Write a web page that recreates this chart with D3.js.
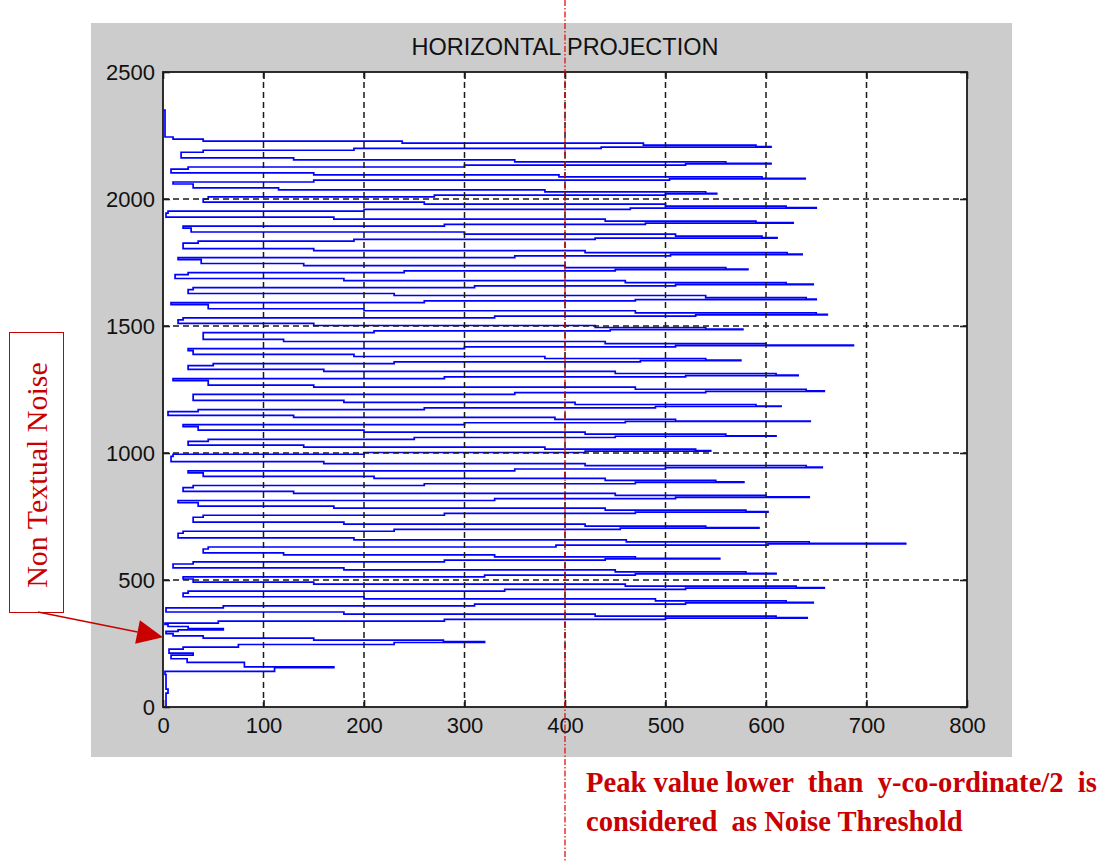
<!DOCTYPE html>
<html>
<head>
<meta charset="utf-8">
<script src="https://cdn.jsdelivr.net/npm/d3@7"></script>
<style>
  body { margin: 0; background: #fff; }
  svg { display: block; }
</style>
</head>
<body>
<svg id="chart" width="1099" height="861"></svg>
<script>
// ---- data ----
const xTicks = [0, 100, 200, 300, 400, 500, 600, 700, 800];
const yTicks = [0, 500, 1000, 1500, 2000, 2500];

// one peak per text line: row of the tip and its projection value (top to bottom)
const lineRows = [2206, 2140, 2081, 2022, 1966, 1907, 1848, 1783, 1724, 1665, 1606, 1546, 1488, 1425, 1366, 1307,
                  1245, 1185, 1126, 1068, 1009, 944, 886, 827, 769, 706, 644, 585, 526, 470, 412, 352];
const lineTips = [605, 605, 639, 551, 650, 627, 611, 636, 582, 647, 650, 661, 577, 687, 575, 632,
                  658, 615, 644, 610, 545, 656, 578, 643, 602, 593, 739, 554, 610, 658, 647, 641];
// values below the tip (rising side) and above it (falling side)
const lineRise = [[40,190,436],[25,300,520],[10,150,504],[45,270,500],[5,200,465],[20,280,480],[35,190,430],[15,350,505],
                  [25,240,450],[30,310,510],[8,260,470],[20,330,530],[40,210,445],[25,300,510],[50,230,475],[10,280,520],
                  [30,350,540],[35,260,490],[20,300,460],[45,250,450],[10,200,420],[25,350,500],[30,260,470],[15,330,510],
                  [40,280,470],[20,230,455],[45,391,602],[30,280,440],[20,320,470],[25,340,520],[60,310,520],[55,280,500]];
const lineFall = [[590,478,238,40],[560,350,130,18],[596,394,150,8],[540,380,115,30],[620,500,260,40],[590,440,170,3],
                  [596,510,300,28],[621,420,150,20],[560,400,140,38],[620,460,180,12],[640,540,230,25],[650,470,200,45],
                  [540,430,150,15],[600,440,120,40],[540,380,190,30],[610,450,160,25],[640,470,150,45],[590,410,180,30],
                  [510,390,130,5],[560,420,200,35],[530,380,140,25],[640,420,160,8],[550,440,210,40],[600,450,130,20],
                  [580,440,170,35],[540,420,180,30],[643,461,190,15],[470,330,120,40],[580,450,180,10],[630,460,150,30],
                  [620,490,200,20],[610,430,180,3]];
// row offsets of the steps around a tip: rise x3, tip, fall x4
const stepOffsets = [-22, -14, -7, -2, 0, 6, 14, 22];

// [row, value] steps of the non textual part at the bottom and the margin at the top
const bottomSteps = [[0,3],[55,5],[70,3],[128,2],[140,111],[155,170],[158,81],[176,24],[190,8],[204,30],[212,6],
                     [228,20],[236,75],[246,230],[254,320],[257,279],[263,150],[271,40],[280,10],[289,3],[298,15],
                     [304,60],[309,25],[317,5],[325,2]];
const topSteps = [[2236,10],[2244,2],[2350,1]];

const thresholdValue = 400;
const noiseRow = 275;

// ---- build the projection as [row, value] steps ----
const steps = bottomSteps.slice();
for (let i = lineRows.length - 1; i >= 0; i--) {
	const vals = lineRise[i].concat([lineTips[i]], lineFall[i]);
	stepOffsets.forEach((o, j) => steps.push([lineRows[i] + o, vals[j]]));
}
topSteps.forEach(s => steps.push(s));

// ---- chart ----
const svg = d3.select("#chart");

const x = d3.scaleLinear().domain([0, 800]).range([163, 967]);
const y = d3.scaleLinear().domain([0, 2500]).range([707, 72]);

// figure background
svg.append("rect")
	.attr("x", 91).attr("y", 23)
	.attr("width", 921).attr("height", 734)
	.attr("fill", "#cccccc");

svg.append("rect")
	.attr("x", x(0)).attr("y", y(2500))
	.attr("width", x(800) - x(0)).attr("height", y(0) - y(2500))
	.attr("fill", "#fff");

// projection line
const line = d3.line()
	.x(d => x(d[1]))
	.y(d => y(d[0]))
	.curve(d3.curveStepBefore);

svg.append("path")
	.datum(steps)
	.attr("d", line)
	.attr("fill", "none")
	.attr("stroke", "#0000ff")
	.attr("stroke-width", 1.7);

// grid (on top, like matlab)
const grid = svg.append("g")
	.attr("stroke", "#1a1a1a")
	.attr("stroke-width", 1.5)
	.attr("stroke-dasharray", "6,4");

grid.selectAll(".gx")
	.data(xTicks.slice(1, -1))
	.enter().append("line")
	.attr("x1", d => x(d)).attr("x2", d => x(d))
	.attr("y1", y(2500)).attr("y2", y(0));

grid.selectAll(".gy")
	.data(yTicks.slice(1, -1))
	.enter().append("line")
	.attr("x1", x(0)).attr("x2", x(800))
	.attr("y1", d => y(d)).attr("y2", d => y(d));

// axes with inward ticks on all four sides
function styleAxis(g) {
	g.select(".domain").remove();
	g.selectAll(".tick line").attr("stroke", "#1a1a1a").attr("stroke-width", 1.6);
	g.selectAll("text")
		.attr("fill", "#111")
		.style("font-family", "'Liberation Sans', Arial, sans-serif")
		.style("font-size", "22px");
}

const fmt = d3.format("d");

svg.append("g")
	.attr("transform", `translate(0,${y(0)})`)
	.call(d3.axisBottom(x).tickValues(xTicks).tickFormat(fmt).tickSizeInner(-7).tickSizeOuter(0).tickPadding(10))
	.call(styleAxis);

svg.append("g")
	.attr("transform", `translate(0,${y(2500)})`)
	.call(d3.axisTop(x).tickValues(xTicks).tickSizeInner(-7).tickSizeOuter(0).tickFormat(""))
	.call(styleAxis);

svg.append("g")
	.attr("transform", `translate(${x(0)},0)`)
	.call(d3.axisLeft(y).tickValues(yTicks).tickFormat(fmt).tickSizeInner(-7).tickSizeOuter(0).tickPadding(8))
	.call(styleAxis);

svg.append("g")
	.attr("transform", `translate(${x(800)},0)`)
	.call(d3.axisRight(y).tickValues(yTicks).tickSizeInner(-7).tickSizeOuter(0).tickFormat(""))
	.call(styleAxis);

svg.append("rect")
	.attr("x", x(0)).attr("y", y(2500))
	.attr("width", x(800) - x(0)).attr("height", y(0) - y(2500))
	.attr("fill", "none")
	.attr("stroke", "#1a1a1a")
	.attr("stroke-width", 1.8);

// title
svg.append("text")
	.attr("x", (x(0) + x(800)) / 2)
	.attr("y", 55)
	.attr("text-anchor", "middle")
	.attr("textLength", 307)
	.attr("lengthAdjust", "spacingAndGlyphs")
	.attr("fill", "#111")
	.style("font-family", "'Liberation Sans', Arial, sans-serif")
	.style("font-size", "24px")
	.text("HORIZONTAL PROJECTION");

// ---- annotations ----
const red = "#c80000";

// threshold line
svg.append("line")
	.attr("x1", x(thresholdValue)).attr("x2", x(thresholdValue))
	.attr("y1", 0).attr("y2", 861)
	.attr("stroke", "#e00000")
	.attr("stroke-width", 1.2)
	.attr("stroke-dasharray", "6,2,1.5,2");

// noise callout box
svg.append("rect")
	.attr("x", 9.5).attr("y", 332.5)
	.attr("width", 54).attr("height", 280)
	.attr("fill", "#fff")
	.attr("stroke", red)
	.attr("stroke-width", 1);

svg.append("text")
	.attr("transform", "translate(47,475) rotate(-90)")
	.attr("text-anchor", "middle")
	.attr("fill", red)
	.style("font-family", "'Liberation Serif', 'Times New Roman', serif")
	.style("font-size", "30px")
	.text("Non Textual Noise");

// arrow to the noise
const tip = [x(0), y(noiseRow)];
const start = [38, 612];
const dx = tip[0] - start[0], dy = tip[1] - start[1];
const len = Math.hypot(dx, dy);
const ux = dx / len, uy = dy / len;
const headLen = 26, headW = 12;
const bx = tip[0] - ux * headLen, by = tip[1] - uy * headLen;

svg.append("line")
	.attr("x1", start[0]).attr("y1", start[1])
	.attr("x2", bx).attr("y2", by)
	.attr("stroke", red)
	.attr("stroke-width", 1.5);

svg.append("path")
	.attr("d", `M${tip[0]},${tip[1]}L${bx - uy * headW},${by + ux * headW}L${bx + uy * headW},${by - ux * headW}Z`)
	.attr("fill", red);

// threshold note
const note = svg.append("text")
	.attr("fill", red)
	.attr("xml:space", "preserve")
	.style("white-space", "pre")
	.style("font-family", "'Liberation Serif', 'Times New Roman', serif")
	.style("font-weight", "bold")
	.style("font-size", "28.6px");

note.append("tspan").attr("x", 586).attr("y", 792).text("Peak value lower  than  y-co-ordinate/2  is");
note.append("tspan").attr("x", 586).attr("y", 831).text("considered  as Noise Threshold");
</script>
</body>
</html>
